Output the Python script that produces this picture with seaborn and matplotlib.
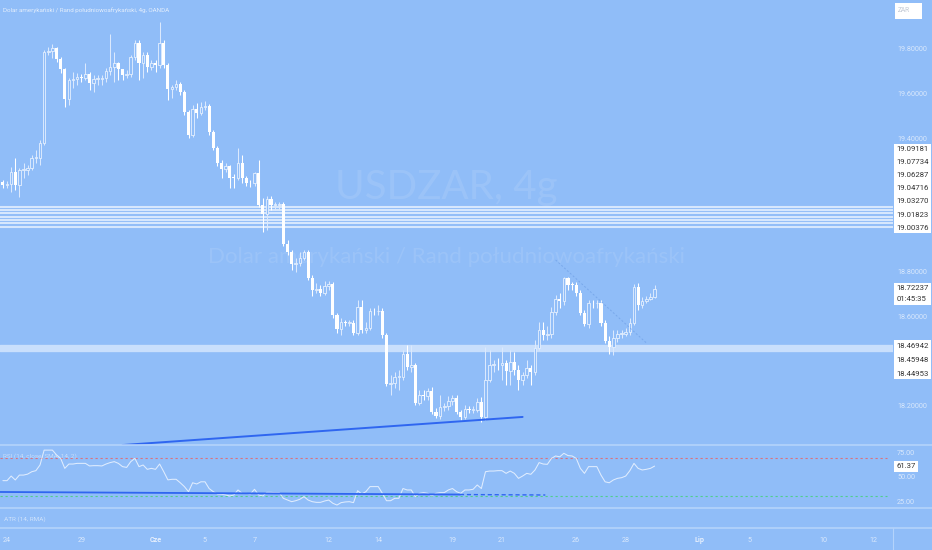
import numpy as np
import pandas as pd
import matplotlib
matplotlib.use("Agg")
import matplotlib.pyplot as plt
import matplotlib.transforms as mtransforms
from matplotlib.lines import Line2D
from matplotlib.patches import Rectangle
import seaborn as sns

# USDZAR 4h candles
first_open = 19.204
closes = [19.190, 19.195, 19.248, 19.190, 19.257, 19.257, 19.266, 19.311, 19.311, 19.378,
          19.786, 19.791, 19.804, 19.755, 19.710, 19.576, 19.661, 19.665, 19.674, 19.672,
          19.688, 19.648, 19.665, 19.665, 19.668, 19.701, 19.719, 19.737, 19.710, 19.683,
          19.688, 19.764, 19.827, 19.737, 19.773, 19.719, 19.737, 19.728, 19.827, 19.728,
          19.621, 19.630, 19.643, 19.607, 19.517, 19.414, 19.531, 19.513, 19.540, 19.544,
          19.428, 19.356, 19.289, 19.262, 19.275, 19.222, 19.220, 19.289, 19.222, 19.199,
          19.197, 19.244, 19.100, 19.060, 19.127, 19.100, 19.102, 19.105, 18.926, 18.890,
          18.836, 18.840, 18.863, 18.890, 18.773, 18.719, 18.724, 18.706, 18.737, 18.746,
          18.607, 18.544, 18.576, 18.571, 18.573, 18.526, 18.643, 18.540, 18.549, 18.625,
          18.623, 18.627, 18.517, 18.298, 18.302, 18.329, 18.331, 18.432, 18.374, 18.383,
          18.212, 18.248, 18.246, 18.266, 18.172, 18.154, 18.195, 18.197, 18.221, 18.235,
          18.172, 18.150, 18.186, 18.181, 18.183, 18.217, 18.150, 18.316, 18.383, 18.385,
          18.381, 18.392, 18.356, 18.396, 18.361, 18.316, 18.338, 18.370, 18.352, 18.459,
          18.540, 18.517, 18.522, 18.621, 18.679, 18.670, 18.773, 18.742, 18.740, 18.706,
          18.616, 18.567, 18.661, 18.659, 18.663, 18.571, 18.491, 18.464, 18.504, 18.522,
          18.524, 18.531, 18.571, 18.733, 18.652, 18.670, 18.679, 18.688, 18.72237]
highs = [19.213, 19.208, 19.271, 19.311, 19.266, 19.289, 19.280, 19.325, 19.347, 19.392,
         19.795, 19.809, 19.822, 19.809, 19.764, 19.715, 19.670, 19.697, 19.692, 19.688,
         19.737, 19.697, 19.683, 19.683, 19.683, 19.715, 19.867, 19.786, 19.742, 19.706,
         19.706, 19.773, 19.840, 19.840, 19.786, 19.786, 19.751, 19.751, 19.921, 19.840,
         19.737, 19.639, 19.661, 19.652, 19.616, 19.526, 19.549, 19.558, 19.562, 19.567,
         19.553, 19.437, 19.365, 19.302, 19.289, 19.280, 19.239, 19.356, 19.325, 19.230,
         19.213, 19.248, 19.302, 19.132, 19.141, 19.141, 19.114, 19.114, 19.114, 18.943,
         18.899, 18.863, 18.890, 18.899, 18.899, 18.786, 18.751, 18.742, 18.760, 18.760,
         18.755, 18.616, 18.594, 18.585, 18.585, 18.585, 18.674, 18.674, 18.576, 18.639,
         18.639, 18.652, 18.639, 18.526, 18.338, 18.352, 18.361, 18.450, 18.473, 18.473,
         18.392, 18.271, 18.271, 18.280, 18.284, 18.190, 18.248, 18.212, 18.244, 18.248,
         18.248, 18.181, 18.204, 18.199, 18.199, 18.235, 18.239, 18.464, 18.450, 18.405,
         18.414, 18.464, 18.405, 18.450, 18.441, 18.383, 18.352, 18.405, 18.383, 18.495,
         18.576, 18.576, 18.558, 18.643, 18.697, 18.706, 18.778, 18.778, 18.755, 18.755,
         18.719, 18.630, 18.674, 18.674, 18.674, 18.674, 18.585, 18.513, 18.540, 18.540,
         18.540, 18.549, 18.594, 18.746, 18.751, 18.688, 18.692, 18.706, 18.742]
lows = [19.177, 19.177, 19.159, 19.168, 19.136, 19.222, 19.235, 19.257, 19.289, 19.280,
        19.370, 19.773, 19.760, 19.742, 19.692, 19.540, 19.549, 19.625, 19.639, 19.652,
        19.661, 19.616, 19.607, 19.639, 19.639, 19.652, 19.683, 19.652, 19.661, 19.661,
        19.670, 19.674, 19.751, 19.661, 19.670, 19.697, 19.706, 19.697, 19.715, 19.715,
        19.571, 19.580, 19.616, 19.594, 19.504, 19.401, 19.405, 19.491, 19.504, 19.526,
        19.414, 19.347, 19.275, 19.222, 19.248, 19.177, 19.177, 19.213, 19.199, 19.186,
        19.181, 19.186, 19.091, 18.979, 18.988, 19.078, 19.078, 19.078, 18.917, 18.876,
        18.809, 18.800, 18.827, 18.854, 18.764, 18.692, 18.706, 18.692, 18.697, 18.719,
        18.594, 18.526, 18.517, 18.558, 18.558, 18.517, 18.517, 18.526, 18.526, 18.540,
        18.607, 18.607, 18.504, 18.289, 18.248, 18.280, 18.271, 18.316, 18.361, 18.352,
        18.204, 18.204, 18.226, 18.226, 18.163, 18.145, 18.141, 18.177, 18.181, 18.204,
        18.163, 18.136, 18.141, 18.168, 18.168, 18.172, 18.127, 18.136, 18.307, 18.352,
        18.361, 18.316, 18.293, 18.293, 18.338, 18.271, 18.293, 18.325, 18.293, 18.338,
        18.450, 18.495, 18.495, 18.504, 18.607, 18.639, 18.652, 18.719, 18.719, 18.692,
        18.607, 18.558, 18.549, 18.639, 18.639, 18.558, 18.482, 18.432, 18.428, 18.486,
        18.504, 18.513, 18.517, 18.562, 18.630, 18.639, 18.661, 18.674, 18.683]

rsi = [46.2, 46.2, 51.0, 46.9, 52.0, 52.0, 53.0, 55.5, 56.6, 62.5,
       78.0, 78.0, 78.0, 73.0, 69.4, 59.0, 63.5, 63.5, 64.2, 64.2,
       64.2, 61.5, 61.8, 61.8, 61.5, 63.5, 65.0, 66.0, 64.2, 60.8,
       60.0, 66.0, 69.4, 60.8, 62.5, 58.0, 59.0, 58.0, 63.5, 55.5,
       47.0, 47.6, 47.6, 44.0, 40.0, 34.7, 44.0, 42.7, 45.0, 45.0,
       38.0, 34.7, 32.3, 32.0, 31.3, 30.2, 31.3, 36.5, 33.0, 33.0,
       32.3, 37.2, 31.3, 30.2, 34.0, 34.0, 33.7, 33.7, 27.8, 26.0,
       24.3, 25.3, 26.8, 29.5, 26.0, 24.3, 23.6, 23.6, 25.0, 26.0,
       22.6, 20.8, 23.3, 24.0, 24.3, 23.3, 35.7, 32.3, 34.7, 40.0,
       40.0, 40.0, 33.0, 25.3, 25.3, 27.8, 27.8, 38.0, 36.5, 36.5,
       29.5, 33.0, 33.7, 33.0, 30.2, 33.0, 33.7, 33.7, 36.5, 38.0,
       34.7, 33.0, 36.5, 36.5, 37.2, 41.7, 38.0, 55.5, 56.2, 56.2,
       56.6, 56.6, 53.8, 56.2, 53.8, 48.6, 51.0, 53.8, 52.8, 57.3,
       65.0, 63.5, 63.2, 69.4, 71.9, 71.0, 74.7, 72.3, 71.9, 69.4,
       59.0, 53.8, 60.8, 60.8, 60.8, 52.0, 45.0, 44.0, 46.9, 48.6,
       49.3, 51.0, 56.6, 64.2, 59.0, 57.3, 58.0, 59.0, 61.37]

day_ticks = [1, 19, 37, 49, 61, 79, 91, 109, 121, 139, 151, 169, 181, 199, 211]
day_labels = ['24', '29', 'Cze', '5', '7', '12', '14', '19', '21', '26', '28', 'Lip', '5', '10', '12']

# scale labels not hidden behind the price tags
price_ticks = [19.8, 19.6, 19.4, 18.8, 18.6, 18.2]
zone_upper = [19.09181, 19.07734, 19.06287, 19.04716, 19.03270, 19.01823, 19.00376]
zone_lower = [18.46942, 18.45948, 18.44953]
last_price = 18.72237
countdown = '01:45:35'
rsi_ticks = [75, 50, 25]
rsi_bands = [70, 30]

# drawn trend lines (candle index, value)
price_trend_idx = [29, 126]
price_trend_val = [18.024, 18.150]
rsi_trend_idx = [-0.7, 110.8, 131.5]
rsi_trend_val = [34.4, 31.74, 31.25]
fade_idx = [134, 156]
fade_val = [18.854, 18.482]

BG = '#90bdf8'
SEP = '#b4d3fb'
TXT = '#d9e8fc'
W, H = 932, 550
FS = 5.6

sns.set_theme(style='white')
plt.rcParams['font.family'] = ['Roboto', 'DejaVu Sans']
plt.rcParams['axes.facecolor'] = BG

df = pd.DataFrame({'open': [first_open] + closes[:-1], 'high': highs,
                   'low': lows, 'close': closes})
df['idx'] = np.arange(len(df))
up = df['close'] >= df['open']
df['bottom'] = df[['open', 'close']].min(axis=1)
df['body'] = (df['close'] - df['open']).abs().clip(lower=0.004)

fig = plt.figure(figsize=(W / 100, H / 100), dpi=100, facecolor=BG)
xlim = (-0.703, 215.8)
axw = 893 / W

ax = fig.add_axes([0, 105 / H, axw, 445 / H])
ax_rsi = fig.add_axes([0, 42 / H, axw, 63 / H])
ax_atr = fig.add_axes([0, 22 / H, axw, 20 / H])
ax_t = fig.add_axes([0, 0, axw, 22 / H])
for a in (ax, ax_rsi, ax_atr, ax_t):
    a.set_facecolor(BG)
    a.set_xlim(*xlim)
    a.set_xticks([])
    for s in a.spines.values():
        s.set_visible(False)

ax.set_ylim(18.0242, 20.0197)

# watermark
ax.text(0.5, 0.578, 'USDZAR, 4g', transform=ax.transAxes, ha='center', va='center',
        fontsize=29, color='white', alpha=0.1, family=['Lato', 'DejaVu Sans'])
ax.text(0.5, 0.422, 'Dolar amerykański / Rand południowoafrykański', transform=ax.transAxes,
        ha='center', va='center', fontsize=16, color='white', alpha=0.1,
        family=['Lato', 'DejaVu Sans'])

# horizontal levels
for lv in zone_upper:
    ax.axhline(lv, color='#d6e7fd', lw=1.5, zorder=1)
for lv in zone_lower:
    ax.axhline(lv, color='#c9dffc', lw=2.4, zorder=1)

# candles
wick_up = '#dbe9fd'
ax.vlines(df['idx'][~up], df['low'][~up], df['high'][~up], color='white', lw=0.75, zorder=2)
ax.vlines(df['idx'][up], df['low'][up], df['high'][up], color=wick_up, lw=0.75, zorder=2)
ax.bar(df['idx'][~up], df['body'][~up], bottom=df['bottom'][~up], width=0.74,
       color='white', lw=0, zorder=3)
ax.bar(df['idx'][up], df['body'][up], bottom=df['bottom'][up], width=0.62,
       facecolor=BG, edgecolor='#e6f0fe', lw=0.6, zorder=3)

# trend lines
sns.lineplot(x=price_trend_idx, y=price_trend_val, ax=ax, color='#2f66f0', lw=1.4, zorder=4)
ax.plot(fade_idx, fade_val, color='#6f9fe6', lw=0.7, ls=(0, (2, 2)), alpha=0.7, zorder=4)

# price scale
ax.yaxis.tick_right()
ax.set_yticks(price_ticks)
ax.set_yticklabels([f'{t:.5f}' for t in price_ticks])
ax.tick_params(axis='y', length=0, pad=3, labelsize=5.2, labelcolor=TXT)

blend = mtransforms.blended_transform_factory(ax.transAxes, ax.transData)
box = dict(boxstyle='square,pad=0.32', fc='white', ec='none')
ax.annotate('\n'.join(f'{v:.5f}' for v in zone_upper), xy=(1, zone_upper[-1]),
            xycoords=blend, xytext=(2.5, -2.2), textcoords='offset points', ha='left',
            va='baseline', fontsize=FS, color='#333333', linespacing=2.42, bbox=box,
            annotation_clip=False, zorder=6)
ax.annotate(f'{last_price:.5f}\n{countdown}', xy=(1, last_price), xycoords=blend,
            xytext=(2.5, 2.8), textcoords='offset points', ha='left', va='top',
            fontsize=FS, color='#333333', linespacing=2.0, bbox=box,
            annotation_clip=False, zorder=6)
ax.annotate('\n'.join(f'{v:.5f}' for v in zone_lower), xy=(1, zone_lower[0]),
            xycoords=blend, xytext=(2.5, 2.2), textcoords='offset points', ha='left',
            va='top', fontsize=FS, color='#333333', linespacing=2.6, bbox=box,
            annotation_clip=False, zorder=6)

ax.text(3 / 893, 1 - 10 / 445, 'Dolar amerykański / Rand południowoafrykański, 4g, OANDA',
        transform=ax.transAxes, ha='left', va='center', fontsize=4.5, color='#e2edfc')

# RSI pane
ax_rsi.set_ylim(17.71, 83.33)
ax_rsi.axhline(rsi_bands[0], xmax=887 / 893, color='#d9737f', lw=0.8, ls=(0, (2, 2.5)))
ax_rsi.axhline(rsi_bands[1], xmax=887 / 893, color='#4fcf8c', lw=0.8, ls=(0, (2, 2.5)))
sns.lineplot(x=df['idx'], y=rsi, ax=ax_rsi, color='#eef5ff', lw=0.75, alpha=0.85)
ax_rsi.plot(rsi_trend_idx[:2], rsi_trend_val[:2], color='#2f66f0', lw=1.3)
ax_rsi.plot(rsi_trend_idx[1:], rsi_trend_val[1:], color='#2f66f0', lw=1.0, ls=(0, (3, 2)))
ax_rsi.set_xlabel('')
ax_rsi.set_ylabel('')
ax_rsi.yaxis.tick_right()
ax_rsi.set_yticks(rsi_ticks)
ax_rsi.set_yticklabels([f'{t:.2f}' for t in rsi_ticks])
ax_rsi.tick_params(axis='y', length=0, pad=3, labelsize=5.2, labelcolor=TXT)
ax_rsi.annotate(f'{rsi[-1]:.2f}', xy=(1, rsi[-1]),
                xycoords=mtransforms.blended_transform_factory(ax_rsi.transAxes, ax_rsi.transData),
                xytext=(2.5, 0), textcoords='offset points', ha='left', va='center',
                fontsize=FS, color='#333333', bbox=box, annotation_clip=False, zorder=6)
ax_rsi.text(3 / 893, 0.82, 'RSI (14, close, SMA, 14, 2)', transform=ax_rsi.transAxes,
            fontsize=4.6, color=TXT, alpha=0.75, va='center')

# ATR pane
ax_atr.set_yticks([])
ax_atr.text(4 / 893, 0.45, 'ATR (14, RMA)', transform=ax_atr.transAxes, fontsize=4.6,
            color=TXT, alpha=0.85, va='center')

# time axis
ax_t.set_yticks([])
tblend = mtransforms.blended_transform_factory(ax_t.transData, ax_t.transAxes)
for t, lab in zip(day_ticks, day_labels):
    bold = lab in ('Cze', 'Lip')
    ax_t.text(t, 0.45, lab, transform=tblend, ha='center', va='center', fontsize=5.2,
              color='#e6effd' if bold else TXT, fontweight='bold' if bold else 'normal')

# pane separators
for py in (445, 508, 528):
    fig.add_artist(Line2D([0, 1], [1 - py / H, 1 - py / H], transform=fig.transFigure,
                          color=SEP, lw=1.2))
fig.add_artist(Line2D([893 / W, 893 / W], [0, 22 / H], transform=fig.transFigure,
                      color=SEP, lw=0.8))

# currency box top right
fig.add_artist(Rectangle((895 / W, 1 - 19 / H), 27 / W, 16 / H, transform=fig.transFigure,
                         fc='white', ec='none'))
fig.text(898 / W, 1 - 11 / H, 'ZAR', fontsize=4.8, color='#c3c9d4', va='center')

fig.savefig('out.png', dpi=100, facecolor=BG)
